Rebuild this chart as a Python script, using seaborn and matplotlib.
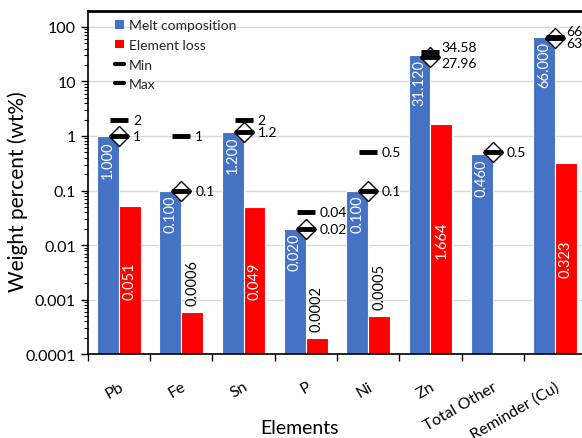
import matplotlib
matplotlib.use("Agg")
import matplotlib.pyplot as plt
from matplotlib.lines import Line2D
from matplotlib.patches import Patch
from matplotlib.ticker import FixedLocator, LogLocator, NullFormatter
import numpy as np
import pandas as pd
import seaborn as sns

elements = ["Pb", "Fe", "Sn", "P", "Ni", "Zn", "Total Other", "Reminder (Cu)"]
melt = [1.000, 0.100, 1.200, 0.020, 0.100, 31.120, 0.460, 66.000]
loss = [0.051, 0.0006, 0.049, 0.0002, 0.0005, 1.664, np.nan, 0.323]
loss_labels = ["0.051", "0.0006", "0.049", "0.0002", "0.0005", "1.664", "", "0.323"]
spec_max = [2, 1, 2, 0.04, 0.5, 34.58, np.nan, 66]
spec_min = [1, 0.1, 1.2, 0.02, 0.1, 27.96, 0.5, 63]
yticks = [0.0001, 0.001, 0.01, 0.1, 1, 10, 100]
ytick_labels = ["0.0001", "0.001", "0.01", "0.1", "1", "10", "100"]

BLUE = "#4472C4"
RED = "#FF0000"

sns.set_theme(style="white")
plt.rcParams["font.family"] = ["Lato", "DejaVu Sans"]

df = pd.DataFrame({
    "element": elements * 2,
    "series": ["Melt composition"] * len(elements) + ["Element loss"] * len(elements),
    "value": melt + loss,
}).dropna()

fig = plt.figure(figsize=(5.82, 4.39), dpi=100)
ax = fig.add_axes([0.151, 0.191, 0.856, 0.782])
ax.set_yscale("log")
sns.barplot(data=df, x="element", y="value", hue="series", order=elements,
            hue_order=["Melt composition", "Element loss"], palette=[BLUE, RED],
            saturation=1, width=0.7, edgecolor="white", linewidth=0.8, errorbar=None,
            legend=False, ax=ax, zorder=2)

ax.set_ylim(1e-4, 197)
ax.set_xlim(-0.5, len(elements) - 0.5)
ax.yaxis.grid(True, color="#d9d9d9", lw=1, zorder=0)
ax.set_axisbelow(True)

# value labels
off = 0.175
for i, v in enumerate(melt):
    ax.annotate(f"{v:.3f}", (i - off, v), xytext=(0, -3), textcoords="offset points",
                rotation=90, ha="center", va="top", color="white", fontsize=10.5, zorder=6)
for i, (v, lab) in enumerate(zip(loss, loss_labels)):
    if not lab:
        continue
    if v >= 0.01:
        ax.text(i + off, np.sqrt(v * 1e-4), lab, rotation=90, ha="center", va="center",
                color="white", fontsize=10.5, zorder=6)
    else:
        ax.annotate(lab, (i + off, v), xytext=(0, 5), textcoords="offset points",
                    rotation=90, ha="center", va="bottom", color="black", fontsize=10.5, zorder=6)

# min / max markers
x = np.arange(len(elements))
ax.plot(x, spec_min, ls="none", marker="D", ms=10, mfc="white", mec="black", mew=1, zorder=7)
ax.plot(x, spec_min, ls="none", marker="_", ms=13, mew=3.5, color="black", zorder=8)
ax.plot(x, spec_max, ls="none", marker="_", ms=13, mew=3.5, color="black", zorder=8)
for i, (lo, hi) in enumerate(zip(spec_min, spec_max)):
    close = not np.isnan(hi) and hi / lo < 1.5
    for v, dy in ((lo, -4 if close else 0), (hi, 4 if close else 0)):
        if np.isnan(v):
            continue
        ax.annotate(f"{v:g}", (i, v), xytext=(8 if close else 10, dy), textcoords="offset points",
                    ha="left", va="center", fontsize=10, color="black", zorder=9)

# axes styling
ax.yaxis.set_major_locator(FixedLocator(yticks))
ax.set_yticklabels(ytick_labels, fontsize=11.5, color="black")
ax.yaxis.set_minor_locator(LogLocator(base=10, subs=np.arange(2, 10)))
ax.yaxis.set_minor_formatter(NullFormatter())
ax.tick_params(axis="y", which="major", left=True, length=5, width=1, color="black")
ax.tick_params(axis="y", which="minor", left=True, length=3, width=0.8, color="black")

ax.set_xticks(x)
ax.set_xticklabels(elements, rotation=30, ha="right", rotation_mode="anchor", fontsize=11.5, color="black")
ax.xaxis.set_minor_locator(FixedLocator(np.arange(len(elements) + 1) - 0.5))
ax.tick_params(axis="x", which="major", bottom=False, pad=12)
ax.tick_params(axis="x", which="minor", bottom=True, length=5, width=1, color="black")

for side in ("left", "bottom", "top"):
    ax.spines[side].set_color("black")
    ax.spines[side].set_linewidth(1.2)
ax.spines["top"].set_linewidth(2)
ax.spines["right"].set_visible(False)

ax.set_xlabel("Elements", fontsize=14, color="black", va="center")
ax.xaxis.set_label_coords(0.425, -0.213)
ax.set_ylabel("Weight percent (wt%)", fontsize=15, color="black", va="center")
ax.yaxis.set_label_coords(-0.14, 0.475)

handles = [
    Patch(facecolor=BLUE, edgecolor="none", label="Melt composition"),
    Patch(facecolor=RED, edgecolor="none", label="Element loss"),
    Line2D([], [], color="black", lw=3, label="Min"),
    Line2D([], [], color="black", lw=3, label="Max"),
]
ax.legend(handles=handles, loc="upper left", bbox_to_anchor=(0.03, 1.012), frameon=False,
          fontsize=10, handlelength=0.6, handleheight=0.6, handletextpad=0.4, labelspacing=0.55)

fig.savefig("out.png", dpi=100)
